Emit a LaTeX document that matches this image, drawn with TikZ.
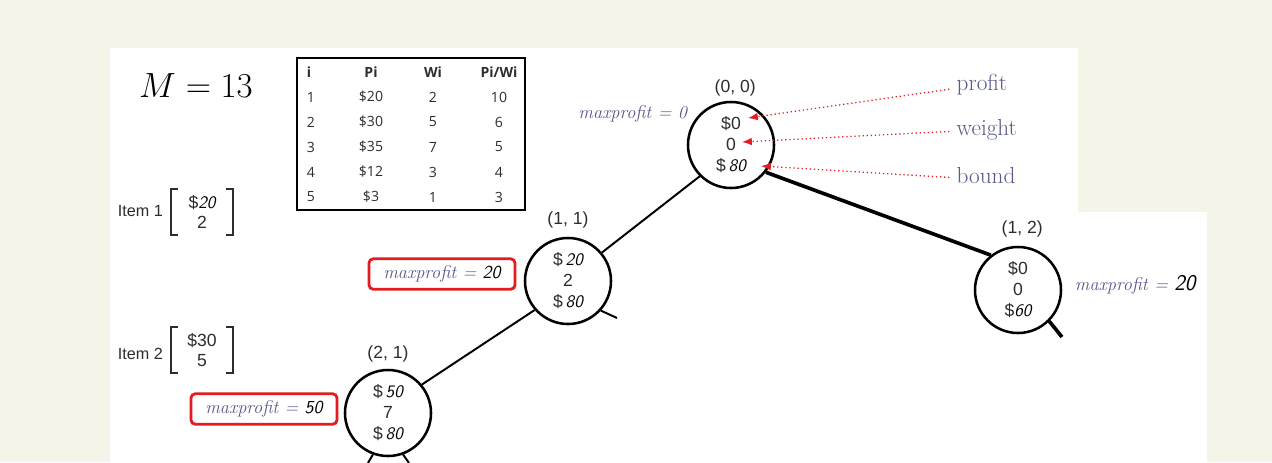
\documentclass[tikz,border=0pt]{standalone}
\usepackage{fontspec}
\usepackage{tikz}
\usetikzlibrary{positioning,arrows.meta}
\tikzset{>={Latex[length=7pt,width=5.5pt]}}
\newfontfamily\arial{Liberation Sans}
\newfontfamily\tabfont{Open Sans}
\newcommand\hw[1]{{\sffamily\itshape\color{black}#1}}
\definecolor{cream}{RGB}{245,244,232}
\definecolor{slate}{RGB}{88,88,140}
\definecolor{boxred}{RGB}{226,28,32}
\definecolor{ink}{RGB}{45,45,45}

\begin{document}
\begin{tikzpicture}[x=0.025cm,y=-0.025cm,
    state/.style={draw,circle,line width=1.8pt,minimum size=2.15cm,inner sep=0,align=center,text=ink,font=\arial\fontsize{12.5}{15}\selectfont},
    tag/.style={text=ink,font=\arial\fontsize{12.5}{14}\selectfont},
    maxp/.style={text=slate,font=\fontsize{13}{15}\selectfont\itshape},
    maxbox/.style={maxp,draw=boxred,line width=2pt,rounded corners=3pt,minimum width=3.65cm,minimum height=0.76cm},
    field/.style={text=slate,font=\fontsize{16.5}{18}\selectfont,anchor=west,inner sep=1pt},
    hint/.style={->,boxred,dotted,line width=0.9pt},
    branch/.style={line width=1.4pt},
    heavy/.style={line width=2.6pt},
    cell/.style={text=ink,font=\tabfont\fontsize{10}{11}\selectfont},
    headcell/.style={cell,font=\tabfont\fontsize{10}{11}\selectfont\bfseries},
    item/.style={anchor=west,text=ink,font=\arial\fontsize{11.5}{13}\selectfont},
    vals/.style={align=center,text=ink,minimum width=1.52cm,minimum height=1.12cm,inner sep=0,font=\arial\fontsize{12.5}{14.5}\selectfont},
    bracket/.style={line width=1.3pt,ink}
  ]
\useasboundingbox (0,0) rectangle (1272,462);
\fill[cream] (0,0) rectangle (1272,462);
\fill[white] (110,48) rectangle (1078,462);
\fill[white] (1078,212) rectangle (1207,462);

% knapsack data
\node[font=\fontsize{24}{28}\selectfont] (mval) at (196,86) {$M = 13$};
\draw[line width=0.8pt] (297,58) rectangle (525,210);
\node[headcell,anchor=west] (hi) at (302,72) {i};
\node[headcell] (hp) at (371,72) {Pi};
\node[headcell] (hw) at (433,72) {Wi};
\node[headcell] (hq) at (499,72) {Pi/Wi};
\foreach \i/\p/\w/\q [count=\k] in {1/20/2/10,2/30/5/6,3/35/7/5,4/12/3/4,5/3/1/3}{
  \node[cell,anchor=west] (i\k) at (302,72+25*\k) {\i};
  \node[cell] (p\k) at (371,72+25*\k) {\$\p};
  \node[cell] (w\k) at (433,72+25*\k) {\w};
  \node[cell] (q\k) at (499,72+25*\k) {\q};
}
\node[item] (it1) at (113,211) {Item 1};
\node[vals] (v1) at (202,212) {\$\hw{20}\\2};
\node[item] (it2) at (113,354) {Item 2};
\node[vals] (v2) at (202,350) {\$30\\5};
\foreach \v in {v1,v2}{
  \draw[bracket] ([xshift=4.5pt]\v.north west) -- (\v.north west) -- (\v.south west) -- ([xshift=4.5pt]\v.south west);
  \draw[bracket] ([xshift=-4.5pt]\v.north east) -- (\v.north east) -- (\v.south east) -- ([xshift=-4.5pt]\v.south east);
}

% state space tree
\node[state] (n00) at (731,145) {\$0\\0\\\$\,\hw{80}};
\node[state] (n11) at (568,281) {\$\,\hw{20}\\2\\\$\,\hw{80}};
\node[state] (n21) at (388,413) {\$\,\hw{50}\\7\\\$\,\hw{80}};
\node[state] (n12) at (1018,290) {\$0\\0\\\$\hw{60}};
\node[tag,above=0mm of n00,xshift=3pt] (t00) {(0, 0)};
\node[tag,above=1mm of n11] (t11) {(1, 1)};
\node[tag,above=0.5mm of n21] (t21) {(2, 1)};
\node[tag,above=1mm of n12,xshift=3pt] (t12) {(1, 2)};

\node[maxp,anchor=east] (m00) at (692,114) {maxprofit = 0};
\node[maxbox] (m11) at (442,274) {maxprofit = \hw{20}};
\node[maxbox] (m21) at (264,409) {maxprofit = \hw{50}};
\node[maxp,anchor=west] (m12) at (1070,285) {maxprofit = {\fontsize{16}{16}\selectfont\hw{20}}};

\draw[branch] (n00.225) -- (n11.40);
\draw[heavy] (n00.-38) -- (n12.128);
\draw[branch] (n11.221) -- (n21.40);
\coordinate (s11) at (617,318);
\coordinate (s12) at (1062,337);
\coordinate (s21a) at (368,463);
\coordinate (s21b) at (409,463);
\draw[branch] (n11.-42) -- (s11);
\draw[heavy] (n12.-45) -- (s12);
\draw[branch] (n21.-110) -- (s21a);
\draw[branch] (n21.-70) -- (s21b);

% what the node holds
\node[field] (fp) at (955,85) {profit};
\node[field] (fw) at (955,130) {weight};
\node[field] (fb) at (955,176) {bound};
\coordinate (ap) at (748,118);
\coordinate (aw) at (742,142);
\coordinate (ab) at (761,166);
\draw[hint] ([xshift=-4pt,yshift=-3pt]fp.west) -- (ap);
\draw[hint] ([xshift=-4pt,yshift=-1pt]fw.west) -- (aw);
\draw[hint] ([xshift=-4pt,yshift=-1pt]fb.west) -- (ab);
\end{tikzpicture}
\end{document}
